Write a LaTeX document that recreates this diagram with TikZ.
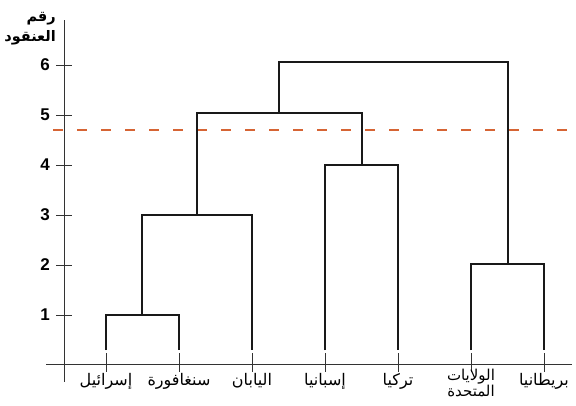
\documentclass[tikz,border=0pt]{standalone}
\usepackage{fontspec}
\setmainfont{Liberation Sans}
\newfontfamily\arabicfont[Script=Arabic]{DejaVu Sans}
\TeXXeTstate=1
\begin{document}
\begin{tikzpicture}[x=1pt,y=-1pt,
  tree/.style={line width=1.3pt,black!90},
  axisline/.style={line width=0.9pt,black!80},
  cut/.style={line width=1.2pt,color={rgb,255:red,214;green,100;blue,52},dash pattern=on 10pt off 14pt},
  leaflabel/.style={anchor=north,inner sep=0pt,font=\arabicfont\fontsize{16}{16}\selectfont,align=center},
  ylab/.style={anchor=east,inner sep=0pt,font=\bfseries\fontsize{17}{17}\selectfont},
  ytitle/.style={anchor=east,inner sep=0pt,font=\arabicfont\bfseries\fontsize{14.5}{20}\selectfont,align=right}]
\useasboundingbox (0,0) rectangle (576,405);
% axes
\coordinate (ytop) at (64,20);
\coordinate (ybot) at (64,382);
\coordinate (xl) at (46,364);
\coordinate (xr) at (572,364);
\draw[axisline] (ytop) -- (ybot);
\draw[axisline] (xl) -- (xr);
\foreach \v/\y in {1/315,2/265,3/215,4/165,5/115,6/65}{
  \coordinate (tl\v) at (56,\y);
  \coordinate (tr\v) at (72,\y);
  \draw[axisline] (tl\v) -- (tr\v);
  \node[ylab] (n\v) at (50,\y) {\v};
}
\node[ytitle] (title) at (56,29) {\beginR رقم\endR\\\beginR العنقود\endR};
% cut line
\coordinate (c1) at (53,130);
\coordinate (c2) at (572,130);
\draw[cut] (c1) -- (c2);
% leaves
\foreach \i/\x in {1/106,2/179,3/252,4/325,5/398,6/471,7/544}{
  \coordinate (L\i) at (\x,350);
  \coordinate (ta\i) at (\x,353);
  \coordinate (tb\i) at (\x,372);
  \draw[axisline] (ta\i) -- (tb\i);
}
% merge points
\coordinate (a1) at (106,315); \coordinate (b1) at (179,315); \coordinate (m1) at (142,315);
\coordinate (a2) at (142,215); \coordinate (b2) at (252,215); \coordinate (m2) at (197,215);
\coordinate (a3) at (325,165); \coordinate (b3) at (398,165); \coordinate (m3) at (362,165);
\coordinate (a4) at (197,113); \coordinate (b4) at (362,113); \coordinate (m4) at (279,113);
\coordinate (a5) at (471,264); \coordinate (b5) at (544,264); \coordinate (m5) at (508,264);
\coordinate (a6) at (279,62); \coordinate (b6) at (508,62);
\draw[tree] (L1) -- (a1) -- (b1) -- (L2);
\draw[tree] (m1) -- (a2) -- (b2) -- (L3);
\draw[tree] (L4) -- (a3) -- (b3) -- (L5);
\draw[tree] (m2) -- (a4) -- (b4) -- (m3);
\draw[tree] (L6) -- (a5) -- (b5) -- (L7);
\draw[tree] (m4) -- (a6) -- (b6) -- (m5);
% labels
\node[leaflabel] (w1) at (106,373) {\beginR إسرائيل\endR};
\node[leaflabel] (w2) at (179,373) {\beginR سنغافورة\endR};
\node[leaflabel] (w3) at (252,373) {\beginR اليابان\endR};
\node[leaflabel] (w4) at (325,373) {\beginR إسبانيا\endR};
\node[leaflabel] (w5) at (398,373) {\beginR تركيا\endR};
\node[leaflabel,font=\arabicfont\fontsize{15}{14}\selectfont] (w6) at (471,369) {\beginR الولايات\endR\\\beginR المتحدة\endR};
\node[leaflabel] (w7) at (544,373) {\beginR بريطانيا\endR};
\end{tikzpicture}
\end{document}
